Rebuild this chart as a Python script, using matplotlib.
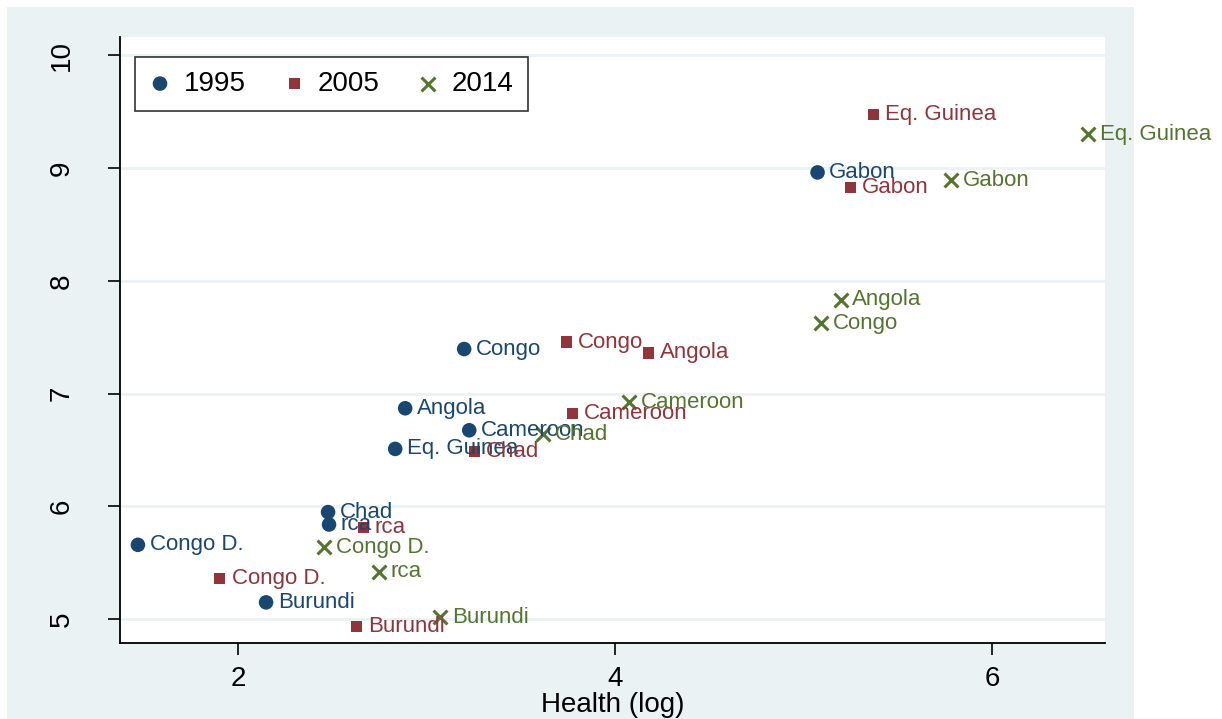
import matplotlib
matplotlib.use("Agg")
import matplotlib.pyplot as plt
from matplotlib.patches import Rectangle

plt.rcParams['font.family'] = ['Liberation Sans', 'DejaVu Sans']

# ------------------------------------------------------------
# Data
# ------------------------------------------------------------
countries_95 = ['Gabon', 'Congo', 'Angola', 'Cameroon', 'Eq. Guinea',
                'Chad', 'rca', 'Congo D.', 'Burundi']
health_95 = [5.075, 3.20, 2.887, 3.227, 2.834, 2.478, 2.483, 1.469, 2.149]
value_95 = [8.96, 7.395, 6.87, 6.675, 6.51, 5.95, 5.84, 5.66, 5.15]

countries_05 = ['Eq. Guinea', 'Gabon', 'Congo', 'Angola', 'Cameroon',
                'Chad', 'rca', 'Congo D.', 'Burundi']
health_05 = [5.372, 5.25, 3.742, 4.177, 3.774, 3.253, 2.664, 1.904, 2.627]
value_05 = [9.47, 8.83, 7.457, 7.36, 6.82, 6.49, 5.81, 5.36, 4.94]

countries_14 = ['Eq. Guinea', 'Gabon', 'Angola', 'Congo', 'Cameroon',
                'Chad', 'Congo D.', 'rca', 'Burundi']
health_14 = [6.509, 5.781, 5.197, 5.091, 4.076, 3.62, 2.457, 2.749, 3.073]
value_14 = [9.30, 8.89, 7.83, 7.625, 6.925, 6.64, 5.64, 5.42, 5.02]

x_ticks = [2, 4, 6]
y_ticks = [5, 6, 7, 8, 9, 10]

# ------------------------------------------------------------
# Figure
# ------------------------------------------------------------
W, H = 1222, 719
fig = plt.figure(figsize=(W / 100, H / 100), dpi=100)
fig.patch.set_facecolor('white')
fig.add_artist(Rectangle((7 / W, 0), (1134 - 7) / W, 1 - 7 / H,
                         transform=fig.transFigure, facecolor='#eaf2f3',
                         edgecolor='none', zorder=-5))

ax = fig.add_axes([120 / W, 1 - 643 / H, (1105 - 120) / W, (643 - 37) / H])
ax.set_facecolor('white')

series = [
    (health_95, value_95, countries_95, '#1a476f', 'o', 110, '1995'),
    (health_05, value_05, countries_05, '#90353b', 's', 64, '2005'),
    (health_14, value_14, countries_14, '#55752f', 'x', 100, '2014'),
]

for xs, ys, names, color, marker, size, label in series:
    if marker == 'x':
        ax.scatter(xs, ys, s=size, marker=marker, color=color, linewidths=2.2,
                   label=label, zorder=3, clip_on=False)
    else:
        ax.scatter(xs, ys, s=size, marker=marker, color=color, edgecolors='none',
                   label=label, zorder=3, clip_on=False)
    for x, y, name in zip(xs, ys, names):
        ax.annotate(name, (x, y), xytext=(8.5, 0), textcoords='offset points',
                    va='center', ha='left', fontsize=16, color=color,
                    zorder=4, annotation_clip=False)

ax.set_xlim(1.374, 6.6)
ax.set_ylim(4.79, 10.16)
ax.set_xticks(x_ticks)
ax.set_yticks(y_ticks)
ax.tick_params(axis='both', direction='out', length=8.5, width=1.2,
               labelsize=20)
ax.tick_params(axis='x', pad=8)
ax.tick_params(axis='y', pad=24)
plt.setp(ax.get_yticklabels(), rotation=90, va='center')
ax.yaxis.grid(True, color='#eaf2f3', linewidth=2)
ax.set_axisbelow(True)

for side in ['top', 'right']:
    ax.spines[side].set_visible(False)
for side in ['left', 'bottom']:
    ax.spines[side].set_linewidth(1.3)

ax.set_xlabel('Health (log)', fontsize=20, labelpad=0)

leg = ax.legend(loc='upper left', bbox_to_anchor=(135 / W, 1 - 57 / H),
                bbox_transform=fig.transFigure, ncol=3, fontsize=20,
                frameon=True, fancybox=False, borderaxespad=0,
                handletextpad=0.45, columnspacing=1.35, handlelength=0.8,
                borderpad=0.5, scatterpoints=1)
leg.get_frame().set_edgecolor('black')
leg.get_frame().set_linewidth(1.2)

fig.savefig('out.png', dpi=100)
